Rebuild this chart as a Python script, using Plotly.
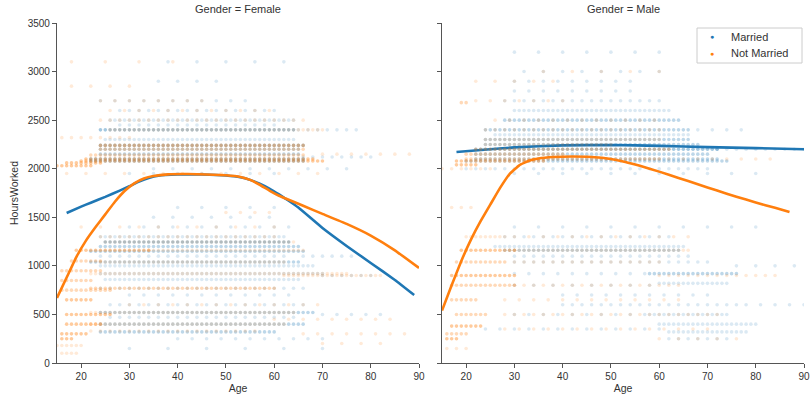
import plotly.graph_objects as go

# ---------------- data ----------------
# Scatter bands: (hours, first_age, last_age, age_step, overlap_count)
female_married_bands = [
    (2080, 22, 66, 1, 3), (2100, 22, 66, 1, 3), (2150, 24, 65, 1, 2), (2200, 24, 65, 1, 2),
    (2240, 24, 66, 1, 3), (2300, 25, 64, 1, 1), (2400, 24, 64, 1, 3), (2450, 28, 60, 2, 1),
    (2500, 26, 64, 1, 1), (2600, 28, 60, 2, 1), (2700, 24, 56, 3, 1), (2000, 35, 75, 4, 1),
    (1950, 30, 60, 5, 1), (2120, 66, 80, 2, 1), (2400, 65, 78, 2, 1), (2900, 36, 48, 4, 1),
    (3100, 38, 64, 6, 1),
    (1300, 24, 62, 1, 1), (1245, 25, 63, 1, 3), (1200, 24, 65, 1, 2), (1150, 22, 66, 1, 2),
    (1100, 24, 62, 2, 1), (1040, 22, 65, 1, 2), (1000, 24, 68, 1, 1), (920, 24, 70, 1, 1),
    (860, 25, 65, 1, 1), (770, 24, 66, 2, 1), (700, 30, 65, 3, 1), (600, 26, 66, 2, 1),
    (520, 24, 68, 1, 2), (470, 26, 64, 2, 1), (400, 24, 66, 1, 2), (320, 24, 60, 1, 2),
    (250, 40, 70, 3, 1), (1400, 30, 65, 3, 1), (1500, 35, 60, 4, 1), (1600, 40, 60, 5, 1),
    (150, 30, 70, 8, 1), (900, 70, 80, 2, 1), (500, 70, 84, 3, 1), (1100, 66, 76, 2, 1),
]
female_single_bands = [
    (2030, 15, 22, 1, 3), (2060, 17, 24, 1, 3), (2080, 20, 70, 1, 3), (2100, 21, 68, 1, 3),
    (2140, 22, 66, 1, 2), (2200, 24, 66, 1, 2), (2240, 24, 66, 1, 3), (2320, 16, 30, 2, 1),
    (2400, 26, 70, 1, 1), (2500, 24, 66, 2, 1), (2600, 26, 60, 3, 1), (2700, 24, 45, 3, 1),
    (2150, 70, 89, 3, 1), (1950, 17, 70, 4, 1), (2850, 18, 30, 4, 1), (3100, 18, 40, 7, 1),
    (250, 16, 18, 1, 3), (300, 16, 21, 1, 3), (400, 17, 24, 1, 3), (500, 17, 26, 1, 3),
    (650, 17, 22, 1, 3), (750, 16, 26, 1, 2), (850, 16, 22, 1, 2), (950, 16, 24, 1, 2),
    (1050, 18, 24, 1, 2), (1160, 19, 34, 1, 3), (100, 16, 19, 1, 1), (180, 15, 20, 1, 1),
    (1300, 24, 60, 2, 1), (1245, 25, 64, 1, 1), (1160, 34, 66, 1, 1), (1040, 24, 62, 1, 1),
    (920, 22, 75, 1, 1), (770, 22, 60, 1, 2), (600, 30, 70, 3, 1), (520, 22, 64, 1, 1),
    (400, 22, 62, 1, 1), (330, 22, 56, 2, 1), (900, 62, 82, 1, 1), (450, 60, 85, 3, 1),
    (300, 66, 88, 3, 1), (200, 70, 85, 4, 1), (1400, 20, 60, 4, 1), (1550, 50, 60, 3, 1),
]
male_married_bands = [
    (2080, 20, 74, 1, 2), (2100, 22, 72, 1, 2), (2150, 22, 70, 1, 2), (2200, 22, 72, 1, 3),
    (2250, 24, 68, 1, 2), (2300, 24, 66, 1, 2), (2350, 26, 66, 1, 1), (2400, 24, 66, 1, 2),
    (2500, 28, 64, 1, 2), (2600, 30, 62, 1, 1), (2700, 28, 60, 2, 1), (2800, 30, 56, 3, 1),
    (2900, 30, 56, 3, 1), (3000, 32, 60, 4, 1), (3200, 30, 60, 5, 1), (2000, 20, 70, 2, 1),
    (1950, 30, 80, 5, 1), (2200, 72, 90, 2, 1), (2400, 68, 78, 3, 1),
    (1300, 28, 62, 2, 1), (1200, 26, 65, 1, 1), (1160, 28, 64, 1, 2), (1100, 30, 66, 2, 1),
    (1040, 30, 70, 2, 1), (920, 58, 76, 1, 2), (920, 30, 58, 3, 1), (820, 60, 74, 1, 1),
    (700, 40, 72, 3, 1), (600, 40, 76, 2, 1), (500, 58, 74, 1, 1), (400, 60, 80, 1, 1),
    (320, 62, 78, 1, 1), (250, 62, 74, 2, 1), (800, 30, 60, 4, 1), (500, 30, 58, 3, 1),
    (350, 24, 60, 3, 1), (1400, 30, 80, 5, 1), (600, 78, 90, 3, 1), (1000, 76, 90, 4, 1),
]
male_single_bands = [
    (2040, 18, 22, 1, 3), (2080, 18, 36, 1, 3), (2100, 20, 60, 1, 2), (2150, 20, 40, 1, 2),
    (2200, 22, 62, 1, 2), (2250, 24, 50, 1, 1), (2300, 24, 60, 1, 1), (2400, 24, 60, 2, 1),
    (2500, 26, 60, 3, 1), (2680, 19, 20, 1, 2), (2700, 22, 40, 3, 1), (2900, 22, 40, 4, 1),
    (3000, 36, 60, 6, 1), (2000, 15, 26, 2, 1), (2100, 62, 85, 3, 1),
    (250, 16, 18, 1, 3), (300, 16, 20, 1, 2), (380, 17, 23, 1, 3), (500, 18, 24, 1, 2),
    (650, 17, 22, 1, 2), (800, 17, 30, 1, 2), (900, 17, 30, 1, 3), (1040, 18, 28, 1, 2),
    (1160, 19, 30, 1, 3), (1300, 20, 28, 1, 1), (150, 16, 20, 2, 1), (1600, 17, 22, 2, 1),
    (1160, 30, 66, 1, 1), (1040, 30, 60, 2, 1), (800, 30, 64, 2, 1), (650, 28, 66, 3, 1),
    (500, 28, 72, 2, 1), (350, 28, 70, 3, 1), (900, 60, 84, 2, 1), (250, 60, 78, 4, 1),
    (1300, 30, 66, 3, 1),
]

# Lowess curves
female_married_age = [17, 20, 22, 25, 28, 30, 32, 34, 36, 40, 45, 50, 53, 55, 57, 59, 61, 63, 65, 70, 75, 80, 85, 89]
female_married_hrs = [1544, 1610, 1650, 1710, 1775, 1820, 1868, 1905, 1928, 1940, 1940, 1930, 1912, 1885, 1845, 1795, 1735, 1670, 1600, 1390, 1205, 1030, 855, 700]
female_single_age = [15, 17, 19, 21, 23, 25, 27, 29, 31, 33, 35, 38, 42, 46, 50, 53, 55, 57, 59, 61, 63, 66, 70, 75, 80, 85, 90]
female_single_hrs = [670, 880, 1090, 1260, 1400, 1530, 1660, 1770, 1850, 1900, 1925, 1942, 1945, 1940, 1932, 1915, 1885, 1835, 1775, 1722, 1680, 1618, 1535, 1432, 1312, 1160, 978]
male_married_age = [18, 25, 30, 40, 50, 60, 70, 80, 90]
male_married_hrs = [2172, 2200, 2220, 2240, 2244, 2235, 2222, 2212, 2200]
male_single_age = [15, 17, 19, 21, 23, 25, 27, 29, 31, 33, 35, 38, 42, 46, 50, 53, 56, 60, 64, 68, 72, 76, 80, 84, 87]
male_single_hrs = [540, 800, 1050, 1270, 1460, 1630, 1800, 1945, 2035, 2082, 2105, 2120, 2125, 2120, 2100, 2070, 2030, 1970, 1905, 1840, 1775, 1712, 1652, 1597, 1554]

panels = ["Female", "Male"]
status = ["Married", "Not Married"]
x_ticks = [20, 30, 40, 50, 60, 70, 80, 90]
y_ticks = [0, 500, 1000, 1500, 2000, 2500, 3000, 3500]

# ---------------- styling ----------------
BLUE = "#1f77b4"
ORANGE = "#ff7f0e"
FONT = "Liberation Sans, Arial, sans-serif"
TXT = "#333333"
AX = "#555555"
BASE_ALPHA = 0.16


def expand(bands):
    xs, ys, ops = [], [], []
    for h, a0, a1, step, cnt in bands:
        for a in range(a0, a1 + 1, step):
            xs.append(a)
            ys.append(h)
            ops.append(1 - (1 - BASE_ALPHA) ** cnt)
    return xs, ys, ops


fig = go.Figure()

groups = [
    ("x", "y", female_married_bands, female_married_age, female_married_hrs, BLUE),
    ("x", "y", female_single_bands, female_single_age, female_single_hrs, ORANGE),
    ("x2", "y2", male_married_bands, male_married_age, male_married_hrs, BLUE),
    ("x2", "y2", male_single_bands, male_single_age, male_single_hrs, ORANGE),
]
for xa, ya, bands, cx, cy, col in groups:
    xs, ys, ops = expand(bands)
    fig.add_trace(go.Scatter(x=xs, y=ys, mode="markers", xaxis=xa, yaxis=ya,
                             marker=dict(color=col, size=3.6, opacity=ops, line=dict(width=0)),
                             showlegend=False, hoverinfo="skip"))
    fig.add_trace(go.Scatter(x=cx, y=cy, mode="lines", xaxis=xa, yaxis=ya,
                             line=dict(color=col, width=2.6, shape="spline", smoothing=0.3),
                             showlegend=False, hoverinfo="skip"))

W, H = 812, 397
L, R, T, B = 57, 8, 23, 34
pw = W - L - R
ph = H - T - B
d1 = (419 - L) / pw
d2 = (442 - L) / pw


def px(xp):
    return (xp - L) / pw


def py(yp):
    return (H - B - yp) / ph


axis_common = dict(showline=True, linecolor=AX, linewidth=1.2, ticks="outside",
                   ticklen=4, tickwidth=1.1, tickcolor=AX, showgrid=False, zeroline=False,
                   tickfont=dict(family=FONT, size=10, color=TXT), mirror=False,
                   automargin=False)

annotations = [
    dict(text=f"Gender = {panels[0]}", x=d1 / 2, y=1, xref="paper", yref="paper",
         xanchor="center", yanchor="bottom", yshift=6, showarrow=False,
         font=dict(family=FONT, size=11, color=TXT)),
    dict(text=f"Gender = {panels[1]}", x=(d2 + 1) / 2, y=1, xref="paper", yref="paper",
         xanchor="center", yanchor="bottom", yshift=6, showarrow=False,
         font=dict(family=FONT, size=11, color=TXT)),
]
# manual legend (box, dots, labels)
for i, (name, col) in enumerate(zip(status, [BLUE, ORANGE])):
    yy = py(37 + 16 * i)
    annotations.append(dict(text="●", x=px(712), y=yy, xref="paper", yref="paper",
                            xanchor="center", yanchor="middle", showarrow=False,
                            font=dict(size=7, color=col)))
    annotations.append(dict(text=name, x=px(729), y=yy, xref="paper", yref="paper",
                            xanchor="left", yanchor="middle", showarrow=False,
                            font=dict(family=FONT, size=11, color=TXT)))

fig.update_layout(
    width=W, height=H, margin=dict(l=L, r=R, t=T, b=B),
    plot_bgcolor="white", paper_bgcolor="white",
    font=dict(family=FONT, size=10, color=TXT),
    showlegend=False,
    xaxis=dict(domain=[0, d1], range=[15, 90], tickvals=x_ticks, anchor="y",
               title=dict(text="Age", font=dict(size=10.5), standoff=3), **axis_common),
    xaxis2=dict(domain=[d2, 1], range=[15, 90], tickvals=x_ticks, anchor="y2",
                title=dict(text="Age", font=dict(size=10.5), standoff=3), **axis_common),
    yaxis=dict(domain=[0, 1], range=[0, 3500], tickvals=y_ticks, anchor="x",
               title=dict(text="HoursWorked", font=dict(size=10.5), standoff=6), **axis_common),
    yaxis2=dict(domain=[0, 1], range=[0, 3500], tickvals=y_ticks, anchor="x2",
                showticklabels=False, **axis_common),
    shapes=[dict(type="rect", xref="paper", yref="paper", x0=px(697), x1=px(802),
                 y0=py(63), y1=py(28), line=dict(color="#cccccc", width=1),
                 fillcolor="rgba(255,255,255,0.8)", layer="above")],
    annotations=annotations,
)

fig.write_html("out.html")
